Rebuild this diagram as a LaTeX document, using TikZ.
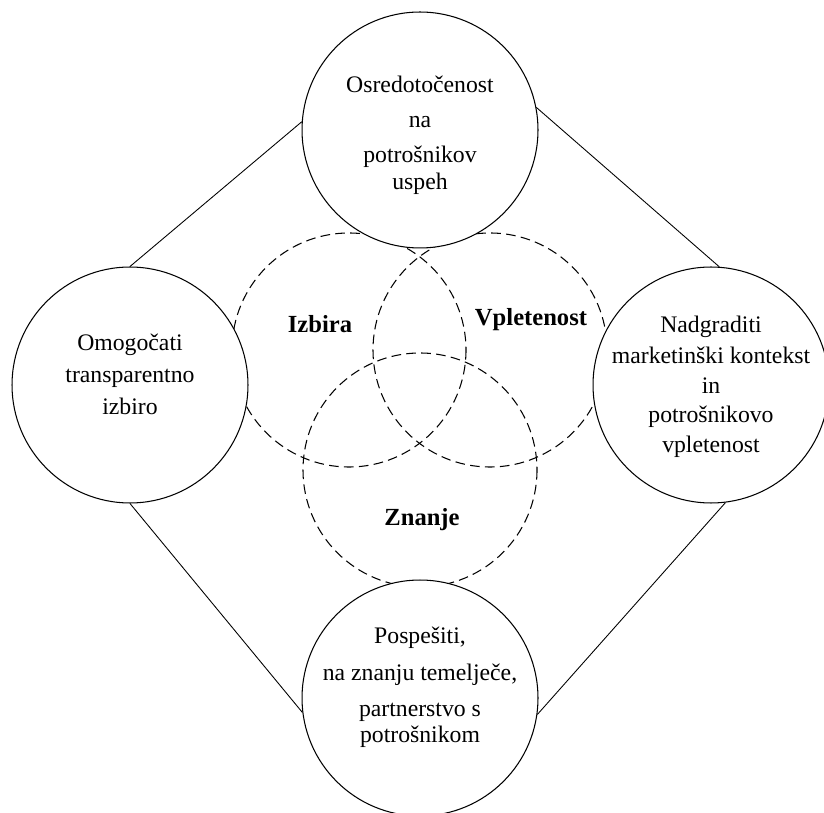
\documentclass[tikz,border=0pt]{standalone}
\usepackage{fontspec}
\setmainfont{Liberation Serif}
\begin{document}
\begin{tikzpicture}[x=0.02cm,y=-0.02cm,
	krog/.style={circle,draw,fill=white,line width=0.6pt,minimum size=4.72cm,inner sep=0pt},
	besedilo/.style={align=center,font=\fontsize{13.5}{15}\selectfont},
	venn/.style={dash pattern=on 5.5pt off 3pt,line width=0.6pt},
	oznaka/.style={font=\fontsize{14}{16}\selectfont\bfseries}]
			\useasboundingbox (0,0) rectangle (824,813);

			% tri prekrivajoca se podrocja
			\draw[venn] (349,350) circle[radius=117];
			\draw[venn] (490,350) circle[radius=117];
			\draw[venn] (420,470) circle[radius=117];

			\node[oznaka] (izbira) at (320,324) {Izbira};
			\node[oznaka] (vpletenost) at (531,320) {Vpletenost};
			\node[oznaka] (znanje) at (422,520) {Znanje};

			\node[krog] (zgoraj) at (420,130) {};
			\node[krog] (levo) at (130,385) {};
			\node[krog] (desno) at (711,385) {};
			\node[krog] (spodaj) at (420,698) {};

			\node[besedilo,yshift=-3pt] (zgoraj-t) at (zgoraj) {Osredotočenost\\[5pt] na\\[5pt] potrošnikov\\ uspeh};
			\node[besedilo,yshift=6pt] (levo-t) at (levo) {Omogočati\\[3pt] transparentno\\[3pt] izbiro};
			\node[besedilo,yshift=-1pt] (desno-t) at (desno) {Nadgraditi\\[3pt] marketinški kontekst\\[2pt] in\\[1.5pt] potrošnikovo\\[2pt] vpletenost};
			\node[besedilo,yshift=6pt] (spodaj-t) at (spodaj) {Pospešiti,\\[6pt] na znanju temelječe,\\[5pt] partnerstvo s\\ potrošnikom};

			\draw[line width=0.5pt] (zgoraj.176) -- (levo.north);
			\draw[line width=0.5pt] (zgoraj.11) -- (desno.86);
			\draw[line width=0.5pt] (levo.south) -- (spodaj.187);
			\draw[line width=0.5pt] (desno.277) -- (spodaj.352);
		\end{tikzpicture}
\end{document}
